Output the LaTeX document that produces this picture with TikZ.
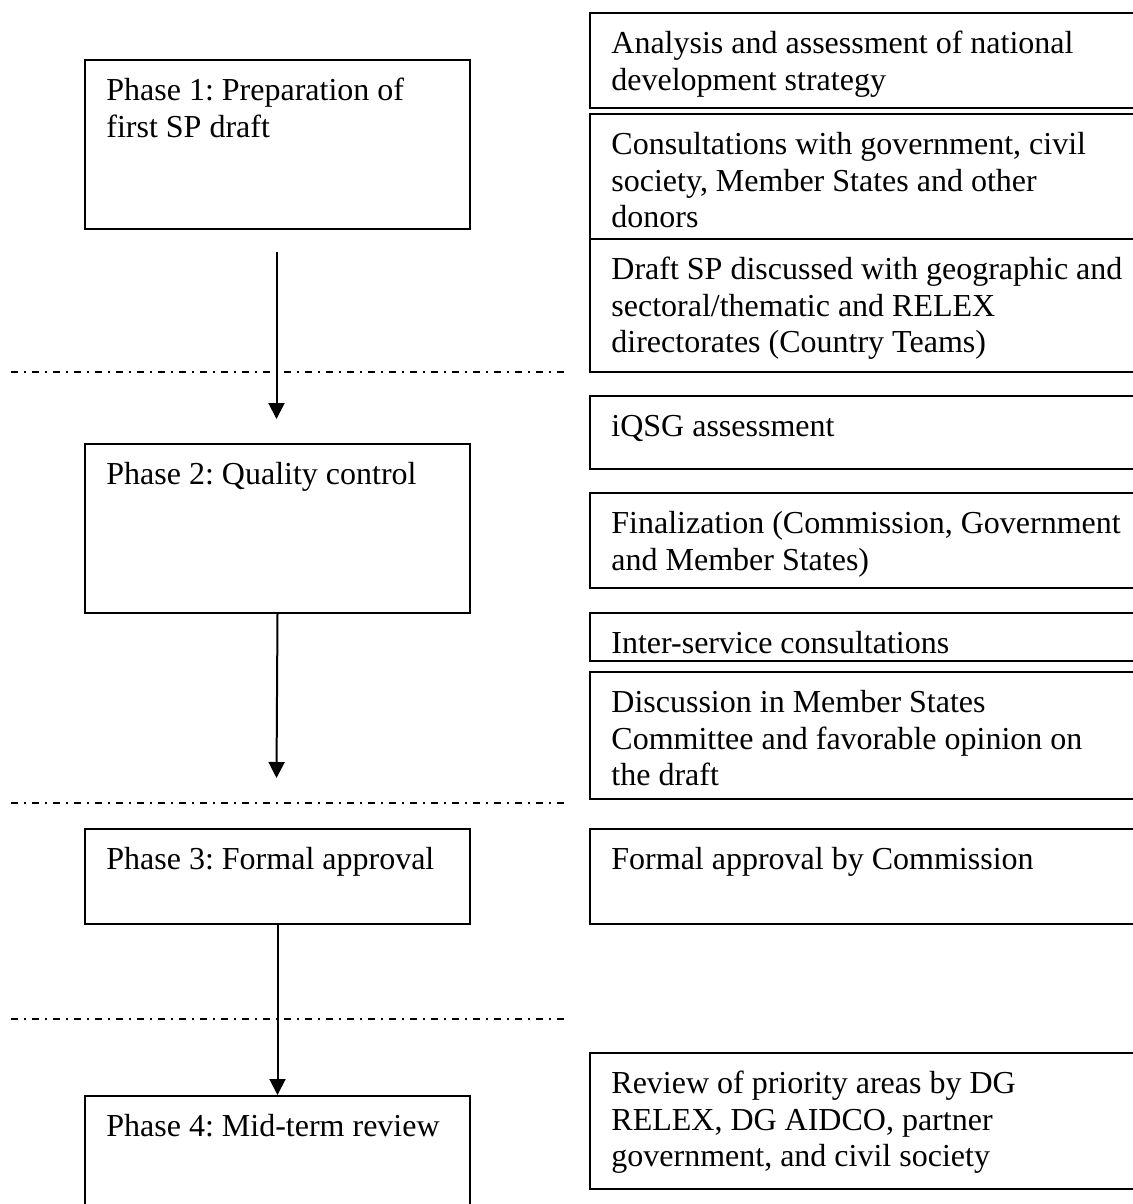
\documentclass[tikz,border=0pt]{standalone}
\usepackage{fontspec}
\setmainfont{Liberation Serif}
\usetikzlibrary{arrows.meta,positioning}
\frenchspacing

\tikzset{
  frame/.style={draw, line width=1pt, anchor=north west, inner sep=0pt},
  phasebox/.style={frame, minimum width=192.5pt},
  stepbox/.style={frame, minimum width=278pt},
  boxtext/.style={inner sep=0pt, align=left, font=\fontsize{16}{18.25}\selectfont},
  phasesep/.style={line width=1pt, dash pattern=on 3.5pt off 3pt on 1pt off 3pt},
  flow/.style={line width=1pt, -{Triangle[length=8pt,width=8pt]}}
}

\begin{document}
\begin{tikzpicture}[x=0.5pt, y=-0.5pt]
\useasboundingbox (0,0) rectangle (1133,1204);

%% === fasi (colonna sinistra) ===
\node[phasebox, minimum height=84.5pt] (p1) at (84,59) {};
\node[phasebox, minimum height=84.5pt] (p2) at (84,443) {};
\node[phasebox, minimum height=47.5pt] (p3) at (84,828) {};
\node[phasebox, minimum height=82.5pt] (p4) at (84,1095) {};

\node[boxtext, below right=7.8pt and 11pt of p1.north west] (p1t)
    {\strut Phase 1: Preparation of\\first SP draft};
\node[boxtext, below right=7.8pt and 11pt of p2.north west] (p2t)
    {\strut Phase 2: Quality control};
\node[boxtext, below right=7.8pt and 11pt of p3.north west] (p3t)
    {\strut Phase 3: Formal approval};
\node[boxtext, below right=7.8pt and 11pt of p4.north west] (p4t)
    {\strut Phase 4: Mid-term review};

%% === attivita (colonna destra) ===
\node[stepbox, minimum height=47.5pt] (sa) at (589,12) {};
\node[stepbox, minimum height=62.5pt] (sb) at (589,113) {};
\node[stepbox, minimum height=66.5pt] (sc) at (589,238) {};
\node[stepbox, minimum height=36.5pt] (sd) at (589,395) {};
\node[stepbox, minimum height=47.5pt] (se) at (589,492) {};
\node[stepbox, minimum height=24pt]   (sf) at (589,612) {};
\node[stepbox, minimum height=63.5pt] (sg) at (589,671) {};
\node[stepbox, minimum height=47.5pt] (sh) at (589,828) {};
\node[stepbox, minimum height=68pt]   (si) at (589,1052) {};

\node[boxtext, below right=7.8pt and 11pt of sa.north west] (sat)
    {\strut Analysis and assessment of national\\development strategy};
\node[boxtext, below right=7.8pt and 11pt of sb.north west] (sbt)
    {\strut Consultations with government, civil\\society, Member States and other\\donors};
\node[boxtext, below right=7.8pt and 11pt of sc.north west] (sct)
    {\strut Draft SP discussed with geographic and\\sectoral/thematic and RELEX\\directorates (Country Teams)};
\node[boxtext, below right=7.8pt and 11pt of sd.north west] (sdt)
    {\strut iQSG assessment};
\node[boxtext, below right=7.8pt and 11pt of se.north west] (set)
    {\strut Finalization (Commission, Government\\and Member States)};
\node[boxtext, below right=7.8pt and 11pt of sf.north west] (sft)
    {\strut Inter-service consultations};
\node[boxtext, below right=7.8pt and 11pt of sg.north west] (sgt)
    {\strut Discussion in Member States\\Committee and favorable opinion on\\the draft};
\node[boxtext, below right=7.8pt and 11pt of sh.north west] (sht)
    {\strut Formal approval by Commission};
\node[boxtext, below right=7.8pt and 11pt of si.north west] (sit)
    {\strut Review of priority areas by DG\\RELEX, DG AIDCO, partner\\government, and civil society};

%% separatori tra le fasi
\foreach \y in {372,803,1019}
    \draw[phasesep] (11,\y) -- (566,\y);

%% frecce
\coordinate (f1s) at (276.5,252);
\coordinate (f1e) at (276.5,419);
\coordinate (f2e) at (276.5,778);
\draw[flow] (f1s) -- (f1e);
\draw[flow] (p2.south) -- (f2e);
\draw[flow] (p3.south) -- (p4.north);

\end{tikzpicture}
\end{document}
